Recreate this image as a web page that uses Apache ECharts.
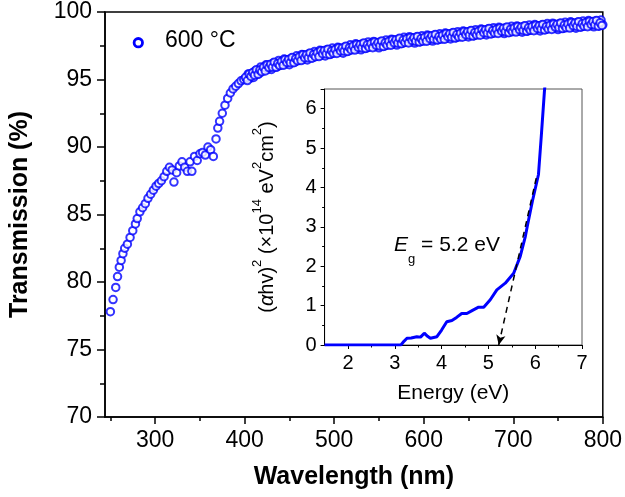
<!DOCTYPE html>
<html>
<head>
<meta charset="utf-8">
<script src="https://cdn.jsdelivr.net/npm/echarts@6/dist/echarts.min.js"></script>
<style>html,body{margin:0;padding:0;background:#fff}#c{width:625px;height:497px}</style>
</head>
<body>
<div id="c"></div>
<script>
// ---- Main chart data (even-step readings) ----
const wavelength = [250,253,256,258,260,262,264,266,269,272,275,278,280,283,286,289,292,295,298,301,304,307,310,313,316,319,321,324,327,330,333,336,339,341,344,347,350,353,356,359,362,365,368,370,372,375,378,381,384,387,390,393,396,399,
402,404,406,408,410,412,414,416,418,420,422,424,426,428,430,432,434,436,438,440,442,444,446,448,450,452,454,456,458,460,462,464,466,468,470,472,474,476,478,480,482,484,486,488,490,492,494,496,498,500,
502,504,506,508,510,512,514,516,518,520,522,524,526,528,530,532,534,536,538,540,542,544,546,548,550,552,554,556,558,560,562,564,566,568,570,572,574,576,578,580,582,584,586,588,590,592,594,596,598,600,
602,604,606,608,610,612,614,616,618,620,622,624,626,628,630,632,634,636,638,640,642,644,646,648,650,652,654,656,658,660,662,664,666,668,670,672,674,676,678,680,682,684,686,688,690,692,694,696,698,700,
702,704,706,708,710,712,714,716,718,720,722,724,726,728,730,732,734,736,738,740,742,744,746,748,750,752,754,756,758,760,762,764,766,768,770,772,774,776,778,780,782,784,786,788,790,792,794,796,798,800];
const transmission = [77.8,78.7,79.6,80.4,81.1,81.6,82.1,82.5,82.8,83.3,83.8,84.3,84.7,85.2,85.5,85.8,86.2,86.5,86.8,87.1,87.3,87.5,87.8,88.2,88.5,88.3,87.4,88.1,88.6,88.9,88.5,88.2,88.9,88.2,89.3,89.0,89.5,89.6,89.4,90.0,89.8,89.3,90.6,91.4,91.9,92.5,93.1,93.6,94.0,94.3,94.5,94.7,94.9,95.0,
95.08,95.41,95.09,95.42,95.15,95.65,95.56,95.43,95.93,95.65,95.8,96.1,95.75,96.05,95.75,96.22,96.1,95.94,96.41,96.1,96.23,96.51,96.14,96.42,96.1,96.57,96.45,96.29,96.76,96.45,96.58,96.86,96.49,96.77,96.45,96.91,96.78,96.61,97.07,96.75,96.88,97.16,96.79,97.07,96.75,97.2,97.06,96.88,97.33,97.0,
97.12,97.39,97.01,97.28,96.95,97.41,97.28,97.11,97.57,97.25,97.37,97.64,97.26,97.53,97.2,97.65,97.51,97.33,97.78,97.45,97.56,97.82,97.43,97.69,97.35,97.8,97.66,97.48,97.93,97.6,97.72,97.99,97.61,97.88,97.55,98.0,97.86,97.68,98.13,97.8,97.91,98.17,97.78,98.04,97.7,98.14,97.99,97.8,98.24,97.9,
98.02,98.29,97.91,98.18,97.85,98.29,98.14,97.95,98.39,98.05,98.17,98.44,98.06,98.33,98.0,98.44,98.29,98.1,98.54,98.2,98.32,98.59,98.21,98.48,98.15,98.59,98.44,98.25,98.69,98.35,98.47,98.74,98.36,98.63,98.3,98.74,98.59,98.4,98.84,98.5,98.61,98.87,98.48,98.74,98.4,98.84,98.69,98.5,98.94,98.6,
98.71,98.97,98.58,98.84,98.5,98.94,98.79,98.6,99.04,98.7,98.81,99.07,98.68,98.94,98.6,99.04,98.89,98.7,99.14,98.8,98.91,99.17,98.78,99.04,98.7,99.14,98.99,98.8,99.24,98.9,99.01,99.27,98.88,99.14,98.8,99.24,99.09,98.9,99.34,99.0,99.11,99.37,98.98,99.24,98.9,99.33,99.17,98.97,99.4,99.05];
// ---- Main chart data (odd-step readings, 401-799 nm) ----
const wavelengthOdd = [401,403,405,407,409,411,413,415,417,419,421,423,425,427,429,431,433,435,437,439,441,443,445,447,449,451,453,455,457,459,461,463,465,467,469,471,473,475,477,479,481,483,485,487,489,491,493,495,497,499,
501,503,505,507,509,511,513,515,517,519,521,523,525,527,529,531,533,535,537,539,541,543,545,547,549,551,553,555,557,559,561,563,565,567,569,571,573,575,577,579,581,583,585,587,589,591,593,595,597,599,
601,603,605,607,609,611,613,615,617,619,621,623,625,627,629,631,633,635,637,639,641,643,645,647,649,651,653,655,657,659,661,663,665,667,669,671,673,675,677,679,681,683,685,687,689,691,693,695,697,699,
701,703,705,707,709,711,713,715,717,719,721,723,725,727,729,731,733,735,737,739,741,743,745,747,749,751,753,755,757,759,761,763,765,767,769,771,773,775,777,779,781,783,785,787,789,791,793,795,797,799];
const transmissionOdd = [95.16,94.92,95.4,95.23,95.51,95.32,95.72,95.38,95.7,95.57,95.9,95.63,96.08,95.88,96.13,95.9,96.28,95.9,96.19,96.03,96.33,96.05,96.48,96.26,96.49,96.25,96.63,96.25,96.54,96.38,96.69,96.4,96.83,96.61,96.84,96.6,96.97,96.58,96.86,96.69,96.99,96.7,97.13,96.91,97.14,96.89,97.25,96.85,97.12,96.94,
97.23,96.93,97.35,97.12,97.34,97.1,97.47,97.08,97.36,97.19,97.48,97.18,97.6,97.37,97.59,97.34,97.7,97.3,97.57,97.39,97.67,97.36,97.77,97.53,97.74,97.49,97.85,97.45,97.72,97.54,97.83,97.53,97.95,97.72,97.94,97.69,98.05,97.65,97.92,97.74,98.02,97.71,98.12,97.88,98.09,97.83,98.18,97.77,98.03,97.84,
98.13,97.83,98.25,98.02,98.24,97.98,98.33,97.92,98.18,97.99,98.28,97.98,98.4,98.17,98.39,98.13,98.48,98.07,98.33,98.14,98.43,98.13,98.55,98.32,98.54,98.28,98.63,98.22,98.48,98.29,98.58,98.28,98.7,98.47,98.69,98.43,98.78,98.37,98.63,98.44,98.72,98.41,98.82,98.58,98.79,98.53,98.88,98.47,98.73,98.54,
98.82,98.51,98.92,98.68,98.89,98.63,98.98,98.57,98.83,98.64,98.92,98.61,99.02,98.78,98.99,98.73,99.08,98.67,98.93,98.74,99.02,98.71,99.12,98.88,99.09,98.83,99.18,98.77,99.03,98.84,99.12,98.81,99.22,98.98,99.19,98.93,99.28,98.87,99.13,98.94,99.22,98.91,99.32,99.08,99.29,99.03,99.37,98.95,99.2,99.0];
const xMajorTicks = [300,400,500,600,700,800];
const xMinorTicks = [250,350,450,550,650,750];
const seriesName = '600 °C';

// ---- Inset data ----
const energy = [1.5,2.0,2.5,3.0,3.13,3.2,3.26,3.35,3.47,3.55,3.63,3.7,3.76,3.83,3.9,4.0,4.11,4.22,4.32,4.43,4.54,4.66,4.79,4.9,5.04,5.18,5.36,5.54,5.68,5.79,5.83,5.94,6.07,6.13,6.2,6.23];
const ahv2 = [0,0,0,0,0,0.1,0.17,0.18,0.21,0.2,0.3,0.22,0.17,0.19,0.21,0.38,0.59,0.62,0.7,0.8,0.8,0.88,0.96,0.96,1.15,1.4,1.57,1.82,2.25,2.76,3.01,3.65,4.33,5.3,6.49,6.8];
const insetXMajor = [2,3,4,5,6,7];
const insetXMinor = [2.5,3.5,4.5,5.5,6.5];
const tangentStart = [5.22, 0];
const tangentEnd = [6.04, 4.33];

const FONT = '"Liberation Sans", Arial, sans-serif';
const BLUE = '#0000ff';

const chart = echarts.init(document.getElementById('c'), null, {renderer: 'canvas'});
const mainData = wavelength.map((w, i) => [w, transmission[i]])
  .concat(wavelengthOdd.map((w, i) => [w, transmissionOdd[i]]));
const insetData = energy.map((e, i) => [e, ahv2[i]]);

const option = {
  animation: false,
  backgroundColor: '#fff',
  textStyle: {fontFamily: FONT},
  grid: [
    {left: 101, top: 12, width: 502, height: 405, show: true, borderColor: '#000', borderWidth: 1.5, backgroundColor: 'transparent'},
    {left: 324.6, top: 89, width: 257.4, height: 256, show: true, borderColor: '#555', borderWidth: 1, backgroundColor: '#fff'}
  ],
  xAxis: [
    {
      gridIndex: 0, type: 'value', min: 244, max: 800, position: 'bottom',
      name: 'Wavelength (nm)', nameLocation: 'middle', nameGap: 48,
      nameTextStyle: {fontSize: 25, fontWeight: 'bold', color: '#000', fontFamily: FONT},
      axisLine: {show: true, lineStyle: {color: '#000', width: 1.5}},
      axisTick: {show: true, inside: false, length: 7, lineStyle: {color: '#000', width: 1.5}, customValues: xMajorTicks},
      axisLabel: {show: true, fontSize: 23, color: '#000', margin: 12, fontFamily: FONT, customValues: xMajorTicks},
      splitLine: {show: false}
    },
    {
      gridIndex: 0, type: 'value', min: 244, max: 800, position: 'bottom',
      axisLine: {show: false},
      axisTick: {show: true, inside: false, length: 4, lineStyle: {color: '#000', width: 1.5}, customValues: xMinorTicks},
      axisLabel: {show: false},
      splitLine: {show: false}
    },
    {
      gridIndex: 1, type: 'value', min: 1.5, max: 7, position: 'bottom',
      name: 'Energy (eV)', nameLocation: 'middle', nameGap: 38,
      nameTextStyle: {fontSize: 21, color: '#000', fontFamily: FONT},
      axisLine: {show: true, lineStyle: {color: '#000', width: 1}},
      axisTick: {show: true, inside: false, length: 4, lineStyle: {color: '#000', width: 1}, customValues: insetXMajor},
      axisLabel: {show: true, fontSize: 20, color: '#000', margin: 8, fontFamily: FONT, customValues: insetXMajor},
      splitLine: {show: false}
    },
    {
      gridIndex: 1, type: 'value', min: 1.5, max: 7, position: 'bottom',
      axisLine: {show: false},
      axisTick: {show: true, inside: false, length: 2.5, lineStyle: {color: '#000', width: 1}, customValues: insetXMinor},
      axisLabel: {show: false},
      splitLine: {show: false}
    }
  ],
  yAxis: [
    {
      gridIndex: 0, type: 'value', min: 70, max: 100, interval: 5,
      name: 'Transmission (%)', nameLocation: 'middle', nameGap: 72,
      nameTextStyle: {fontSize: 25, fontWeight: 'bold', color: '#000', fontFamily: FONT},
      axisLine: {show: true, lineStyle: {color: '#000', width: 1.5}},
      axisTick: {show: true, inside: false, length: 8, lineStyle: {color: '#000', width: 1.5}},
      minorTick: {show: true, splitNumber: 2, length: 5, lineStyle: {color: '#000', width: 1.5}},
      axisLabel: {show: true, fontSize: 23, color: '#000', margin: 13, fontFamily: FONT},
      splitLine: {show: false}, minorSplitLine: {show: false}
    },
    {
      gridIndex: 1, type: 'value', min: 0, max: 6.5, interval: 1,
      name: '{a|(}{i|α}{a|hv)}{s|2}{a| (×10}{s|14}{a| eV}{s|2}{a|cm}{s|2}{a|)}',
      nameLocation: 'middle', nameGap: 47,
      nameTextStyle: {
        fontSize: 20, color: '#000', fontFamily: FONT,
        rich: {
          a: {fontSize: 20, color: '#000', fontFamily: FONT, lineHeight: 27, verticalAlign: 'bottom'},
          i: {fontSize: 20, color: '#000', fontFamily: FONT, fontStyle: 'italic', lineHeight: 27, verticalAlign: 'bottom'},
          s: {fontSize: 13, color: '#000', fontFamily: FONT, lineHeight: 14, verticalAlign: 'top'}
        }
      },
      axisLine: {show: true, lineStyle: {color: '#000', width: 1}},
      axisTick: {show: true, inside: false, length: 4, lineStyle: {color: '#000', width: 1}},
      minorTick: {show: true, splitNumber: 2, length: 2.5, lineStyle: {color: '#000', width: 1}},
      axisLabel: {show: true, fontSize: 20, color: '#000', margin: 8, fontFamily: FONT, showMaxLabel: false},
      splitLine: {show: false}, minorSplitLine: {show: false}
    }
  ],
  series: [
    {
      name: seriesName, type: 'scatter', xAxisIndex: 0, yAxisIndex: 0,
      data: mainData, symbol: 'emptyCircle', symbolSize: 7.5,
      itemStyle: {color: BLUE, borderColor: BLUE, borderWidth: 3.2},
      z: 3
    },
    {
      type: 'line', xAxisIndex: 2, yAxisIndex: 1, data: insetData,
      showSymbol: false, symbol: 'none', clip: true,
      lineStyle: {color: BLUE, width: 3},
      markLine: {
        silent: true, symbol: ['arrow', 'none'], symbolSize: [7, 10], z: 10,
        lineStyle: {color: '#000', type: [6, 5], width: 1.5},
        label: {show: false},
        data: [[{coord: tangentStart}, {coord: tangentEnd}]],
        animation: false
      },
      z: 3
    }
  ],
  graphic: [
    {type: 'circle', shape: {cx: 138.3, cy: 42.7, r: 4.2}, style: {fill: 'none', stroke: BLUE, lineWidth: 2.8}, z: 10},
    {type: 'text', left: 165, top: 29, style: {text: seriesName, fontSize: 23, fill: '#000', fontFamily: FONT}, z: 10},
    {type: 'text', left: 394, top: 235, z: 10, style: {
      text: '{e|E}{g|g}{t| = 5.2 eV}',
      rich: {
        e: {fontSize: 21, fontStyle: 'italic', fill: '#000', fontFamily: FONT, lineHeight: 23, verticalAlign: 'top'},
        g: {fontSize: 13, fill: '#000', fontFamily: FONT, lineHeight: 31, verticalAlign: 'bottom'},
        t: {fontSize: 21, fill: '#000', fontFamily: FONT, lineHeight: 23, verticalAlign: 'top'}
      }
    }}
  ]
};
chart.setOption(option);
</script>
</body>
</html>
